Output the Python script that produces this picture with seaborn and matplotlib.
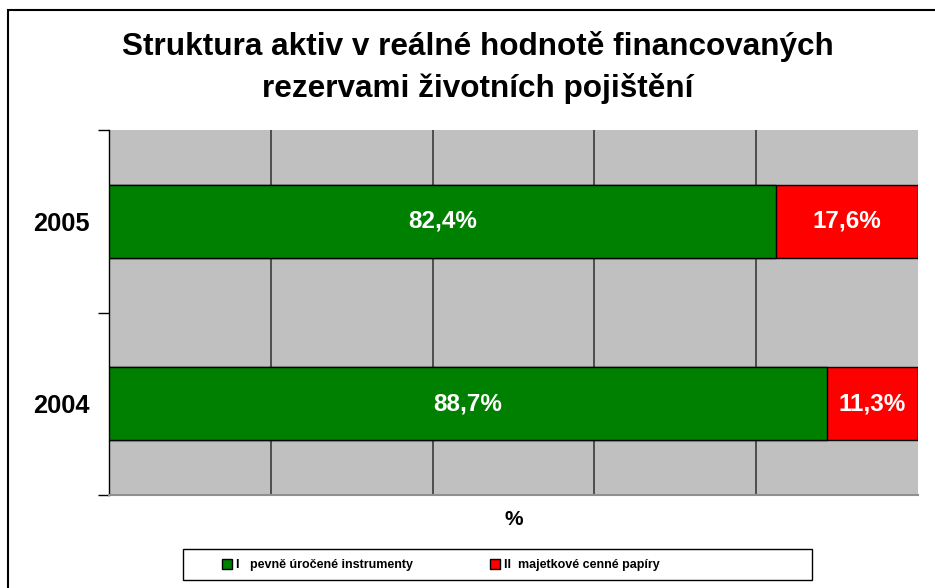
import matplotlib
matplotlib.use('Agg')
import matplotlib.pyplot as plt
import seaborn as sns
import pandas as pd
from matplotlib.patches import Rectangle, Patch

years = ['2005', '2004']
fixed_income = [82.4, 88.7]
equities = [17.6, 11.3]
labels = ['I   pevně úročené instrumenty', 'II  majetkové cenné papíry']
title_lines = ['Struktura aktiv v reálné hodnotě financovaných', 'rezervami životních pojištění']

sns.set_theme(style='white')
plt.rcParams['font.family'] = ['Liberation Sans', 'DejaVu Sans']
plt.rcParams['text.color'] = 'black'
plt.rcParams['axes.labelcolor'] = 'black'
plt.rcParams['ytick.color'] = 'black'
plt.rcParams['xtick.color'] = 'black'

df = pd.DataFrame({'year': years, 'fixed': fixed_income, 'equity': equities})
df['total'] = df['fixed'] + df['equity']

fig = plt.figure(figsize=(9.35, 5.88), dpi=100)
ax = fig.add_axes([109 / 935, 1 - 495 / 588, (918 - 109) / 935, (495 - 130) / 588])
ax.set_facecolor('#c0c0c0')

for x in [20, 40, 60, 80]:
    ax.axvline(x, color='#3a3a3a', lw=1.2, zorder=0.5)

sns.barplot(data=df, x='total', y='year', order=years, orient='h', color='#ff0000',
            width=0.4, edgecolor='black', linewidth=1, saturation=1, ax=ax, zorder=2)
sns.barplot(data=df, x='fixed', y='year', order=years, orient='h', color='#008000',
            width=0.4, edgecolor='black', linewidth=1, saturation=1, ax=ax, zorder=3)

for i, row in df.iterrows():
    ax.text(row['fixed'] / 2, i, f"{row['fixed']:.1f}%".replace('.', ','), ha='center', va='center',
            color='white', fontsize=17.5, fontweight='bold', zorder=4)
    ax.text(row['fixed'] + row['equity'] / 2, i, f"{row['equity']:.1f}%".replace('.', ','),
            ha='center', va='center', color='white', fontsize=17.5, fontweight='bold', zorder=4)

ax.set_xlim(0, 100)
ax.set_ylim(1.5, -0.5)
ax.set_xticks([])
ax.set_yticks([-0.5, 0.5, 1.5])
ax.set_yticklabels([])
ax.set_yticks([0, 1], minor=True)
ax.set_yticklabels(years, minor=True, fontsize=18.3, fontweight='bold')
ax.tick_params(axis='y', which='major', left=True, length=8, width=1, color='black', direction='out')
ax.tick_params(axis='y', which='minor', left=False, length=0, pad=14)
ax.set_ylabel('')
ax.set_xlabel('%', fontsize=15, fontweight='bold', labelpad=11)

for s in ['top', 'right']:
    ax.spines[s].set_visible(False)
ax.spines['left'].set_color('black')
ax.spines['left'].set_linewidth(1)
ax.spines['bottom'].set_color('#909090')
ax.spines['bottom'].set_linewidth(1.5)

fig.text(478 / 935, 1 - 47 / 588, title_lines[0], ha='center', va='center', fontsize=22.7, fontweight='bold')
fig.text(478 / 935, 1 - 89 / 588, title_lines[1], ha='center', va='center', fontsize=22.7, fontweight='bold')

handles = [Patch(facecolor='#008000', edgecolor='black'), Patch(facecolor='#ff0000', edgecolor='black')]
leg = fig.legend(handles, labels, loc='center', bbox_to_anchor=(441 / 935, 1 - 565 / 588), ncol=2,
                 frameon=False, prop={'weight': 'bold', 'size': 9}, handlelength=0.8, handleheight=0.8,
                 handletextpad=0.3, columnspacing=6.2, borderaxespad=0)

fig.patches.append(Rectangle((183 / 935, 1 - 580 / 588), (812 - 183) / 935, 31 / 588,
                             transform=fig.transFigure, fill=False, edgecolor='black', lw=1))
fig.patches.append(Rectangle((8 / 935, -0.1), 1.2, 1.1 - 10 / 588, transform=fig.transFigure,
                             fill=False, edgecolor='black', lw=1.5))

fig.savefig('out.png', dpi=100)
